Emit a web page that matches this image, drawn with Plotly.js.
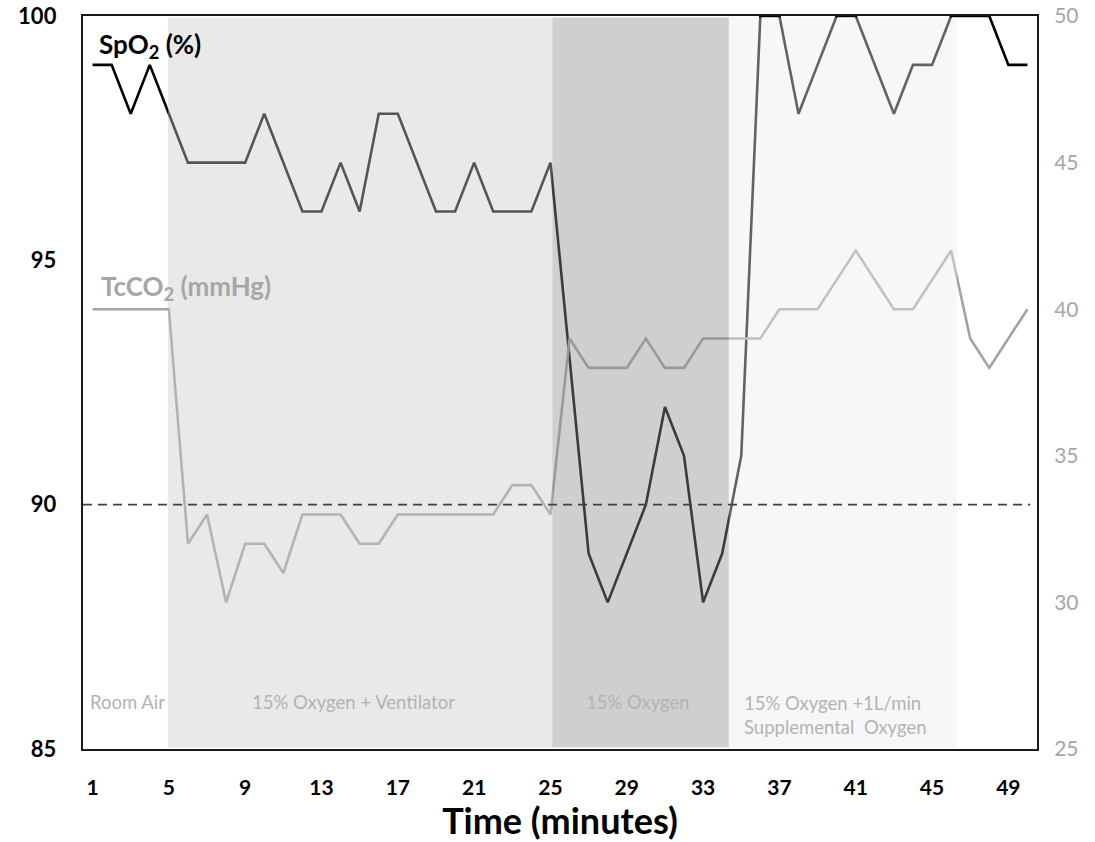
<!DOCTYPE html>
<html>
<head>
<meta charset="utf-8">
<script src="https://cdn.plot.ly/plotly-3.0.1.min.js"></script>
<style>
  html, body { margin: 0; padding: 0; background: #ffffff; }
  #chart { width: 1095px; height: 842px; }
</style>
</head>
<body>
<div id="chart"></div>
<script>
// Time (minutes)
const minutes = [1,2,3,4,5,6,7,8,9,10,11,12,13,14,15,16,17,18,19,20,21,22,23,24,25,
                 26,27,28,29,30,31,32,33,34,35,36,37,38,39,40,41,42,43,44,45,46,47,48,49,50];
// SpO2 (%) - left axis
const spo2 = [99,99,98,99,98,97,97,97,97,98,97,96,96,97,96,98,98,97,96,96,97,96,96,96,97,
              93,89,88,89,90,92,91,88,89,91,100,100,98,99,100,100,99,98,99,99,100,100,100,99,99];
// TcCO2 (mmHg) - right axis
const tcco2 = [40,40,40,40,40,32,33,30,32,32,31,33,33,33,32,32,33,33,33,33,33,33,34,34,33,
               39,38,38,38,39,38,38,39,39,39,39,40,40,40,41,42,41,40,40,41,42,39,38,39,40];
// Phase boundaries (minutes) and labels
const phaseStarts = [4.95, 25.1, 34.35];
const phaseEnds   = [25.1, 34.35, 46.3];
const phaseFills  = ['rgba(202,202,202,0.42)', 'rgba(141,141,141,0.42)', 'rgba(237,237,237,0.42)'];
const phaseLabels = ['Room Air', '15% Oxygen + Ventilator', '15% Oxygen', '15% Oxygen +1L/min<br>Supplemental  Oxygen'];
const threshold = 90;
const xTicks = [1,5,9,13,17,21,25,29,33,37,41,45,49];
const yTicks = [85,90,95,100];
const y2Ticks = [25,30,35,40,45,50];

const FONT = 'Lato, "Open Sans", "DejaVu Sans", sans-serif';

const traces = [
  {
    x: minutes, y: spo2, type: 'scatter', mode: 'lines', name: 'SpO2 (%)',
    line: { color: '#000000', width: 2.6 }, yaxis: 'y'
  },
  {
    x: minutes, y: tcco2, type: 'scatter', mode: 'lines', name: 'TcCO2 (mmHg)',
    line: { color: '#a3a3a3', width: 2.6 }, yaxis: 'y2'
  }
];

const shapes = phaseStarts.map((s, i) => ({
  type: 'rect', xref: 'x', yref: 'paper', x0: s, x1: phaseEnds[i], y0: 0.002, y1: 0.998,
  fillcolor: phaseFills[i], line: { width: 0 }, layer: 'above'
}));
shapes.push({
  type: 'line', xref: 'paper', yref: 'y', x0: 0, x1: 0.993, y0: threshold, y1: threshold,
  line: { color: '#404040', width: 1.6, dash: '9px,6px' }, layer: 'above'
});

const labelColor = '#b3b3b3';
const annotations = [
  { text: '<b>SpO<sub>2</sub> (%)</b>', xref: 'paper', yref: 'paper', x: 0.015, y: 0.96,
    xanchor: 'left', yanchor: 'middle', showarrow: false, font: { family: FONT, size: 26, color: '#000000' } },
  { text: '<b>TcCO<sub>2</sub> (mmHg)</b>', xref: 'paper', yref: 'paper', x: 0.017, y: 0.63,
    xanchor: 'left', yanchor: 'middle', showarrow: false, font: { family: FONT, size: 26, color: '#a6a6a6' } },
  { text: phaseLabels[0], xref: 'paper', yref: 'paper', x: 0.005, y: 0.064,
    xanchor: 'left', yanchor: 'middle', showarrow: false, font: { family: FONT, size: 18.5, color: labelColor } },
  { text: phaseLabels[1], xref: 'paper', yref: 'paper', x: 0.284, y: 0.064,
    xanchor: 'center', yanchor: 'middle', showarrow: false, font: { family: FONT, size: 18.5, color: labelColor } },
  { text: phaseLabels[2], xref: 'paper', yref: 'paper', x: 0.582, y: 0.064,
    xanchor: 'center', yanchor: 'middle', showarrow: false, font: { family: FONT, size: 18.5, color: labelColor } },
  { text: phaseLabels[3], xref: 'paper', yref: 'paper', x: 0.691, y: 0.047, align: 'left',
    xanchor: 'left', yanchor: 'middle', showarrow: false, font: { family: FONT, size: 18.5, color: labelColor } }
];

const layout = {
  width: 1095, height: 842,
  margin: { l: 83, r: 58, t: 16, b: 93, autoexpand: false },
  paper_bgcolor: '#ffffff', plot_bgcolor: '#ffffff',
  showlegend: false,
  font: { family: FONT },
  xaxis: {
    range: [0.5, 50.5], tickmode: 'array', tickvals: xTicks, ticktext: xTicks.map(String),
    showgrid: false, zeroline: false, showline: true, mirror: true, linecolor: '#1a1a1a', linewidth: 2.4,
    ticks: 'outside', ticklen: 18, tickcolor: 'rgba(0,0,0,0)',
    tickfont: { family: FONT, size: 21, color: '#000000', weight: 'bold' },
    title: { text: '<b>Time (minutes)</b>', font: { family: FONT, size: 36, color: '#000000' }, standoff: 2 }
  },
  yaxis: {
    range: [85, 100], tickmode: 'array', tickvals: yTicks, ticktext: yTicks.map(String),
    showgrid: false, zeroline: false, showline: true, mirror: true, linecolor: '#1a1a1a', linewidth: 2.2,
    ticks: 'outside', ticklen: 20, tickcolor: 'rgba(0,0,0,0)',
    tickfont: { family: FONT, size: 22, color: '#000000', weight: 'bold' }
  },
  yaxis2: {
    range: [25, 50], overlaying: 'y', side: 'right', tickmode: 'array', tickvals: y2Ticks, ticktext: y2Ticks.map(String),
    showgrid: false, zeroline: false, showline: false,
    ticks: 'outside', ticklen: 12, tickcolor: 'rgba(0,0,0,0)',
    tickfont: { family: FONT, size: 21, color: '#a6a6a6' }
  },
  shapes: shapes,
  annotations: annotations
};

Plotly.newPlot('chart', traces, layout, { staticPlot: true, displayModeBar: false });
</script>
</body>
</html>
